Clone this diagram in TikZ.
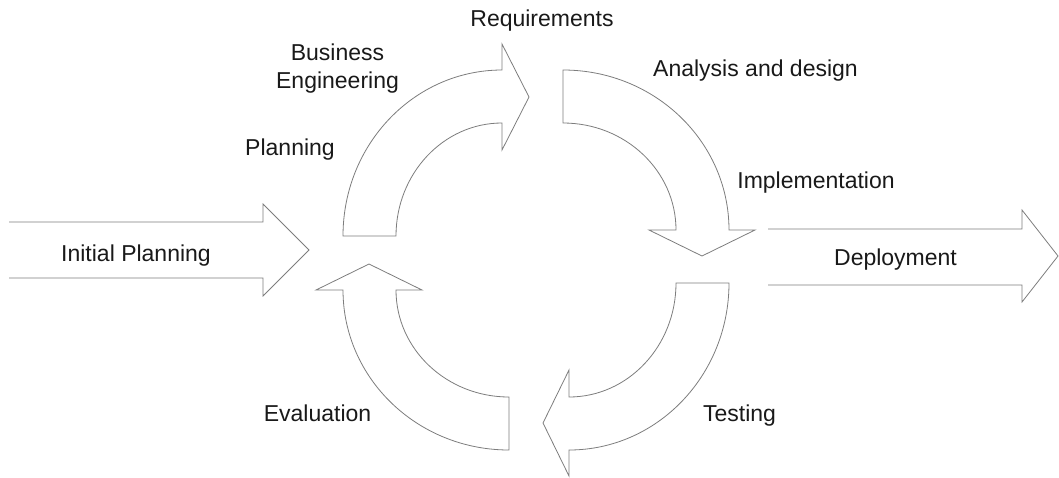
\documentclass[tikz,border=0pt]{standalone}
\usepackage{fontspec}
\setmainfont{Liberation Sans}
\definecolor{edge}{RGB}{125,125,125}
\definecolor{ink}{RGB}{25,25,25}
\begin{document}
\begin{tikzpicture}[x=1pt,y=-1pt,
  arrowshape/.style={draw=edge,line width=0.8pt,line join=miter,fill=white},
  lbl/.style={text=ink,font=\fontsize{23}{28}\selectfont,inner sep=0pt,anchor=base,align=center}]
\useasboundingbox (0,0) rectangle (1059,477);
% straight arrows (open on the left)
\draw[arrowshape] (9,222) -- (263,222) -- (263,204) -- (309,250) -- (263,296) -- (263,278) -- (9,278);
\draw[arrowshape] (768,229) -- (1022,229) -- (1022,210) -- (1058,256) -- (1022,302) -- (1022,285) -- (768,285);
% top-left curved arrow
\draw[arrowshape] (343,236) arc[start angle=180,end angle=270,x radius=159,y radius=166]
  -- (502,44) -- (529,97) -- (502,150) -- (502,123)
  arc[start angle=270,end angle=180,x radius=106,y radius=113] -- cycle;
% top-right curved arrow
\draw[arrowshape] (563,70) arc[start angle=270,end angle=360,x radius=166,y radius=160]
  -- (755,230) -- (702,256) -- (649,230) -- (676,230)
  arc[start angle=360,end angle=270,x radius=113,y radius=107] -- cycle;
% bottom-right curved arrow
\draw[arrowshape] (729,283) arc[start angle=0,end angle=90,x radius=160,y radius=167]
  -- (569,476) -- (543,423) -- (569,370) -- (569,397)
  arc[start angle=90,end angle=0,x radius=107,y radius=114] -- cycle;
% bottom-left curved arrow
\draw[arrowshape] (509,450) arc[start angle=90,end angle=180,x radius=166,y radius=160]
  -- (316,290) -- (369,264) -- (422,290) -- (396,290)
  arc[start angle=180,end angle=90,x radius=113,y radius=107] -- cycle;
% labels
\node[lbl] (req) at (542,26) {Requirements};
\node[lbl] (bus) at (337.5,88) {Business\\Engineering};
\node[lbl] (ana) at (755.5,76) {Analysis and design};
\node[lbl] (pla) at (290,155) {Planning};
\node[lbl] (imp) at (816,188) {Implementation};
\node[lbl] (ini) at (136,261) {Initial Planning};
\node[lbl] (dep) at (895.5,265) {Deployment};
\node[lbl] (eva) at (317.5,421) {Evaluation};
\node[lbl] (tes) at (739.5,421) {Testing};
\end{tikzpicture}
\end{document}
